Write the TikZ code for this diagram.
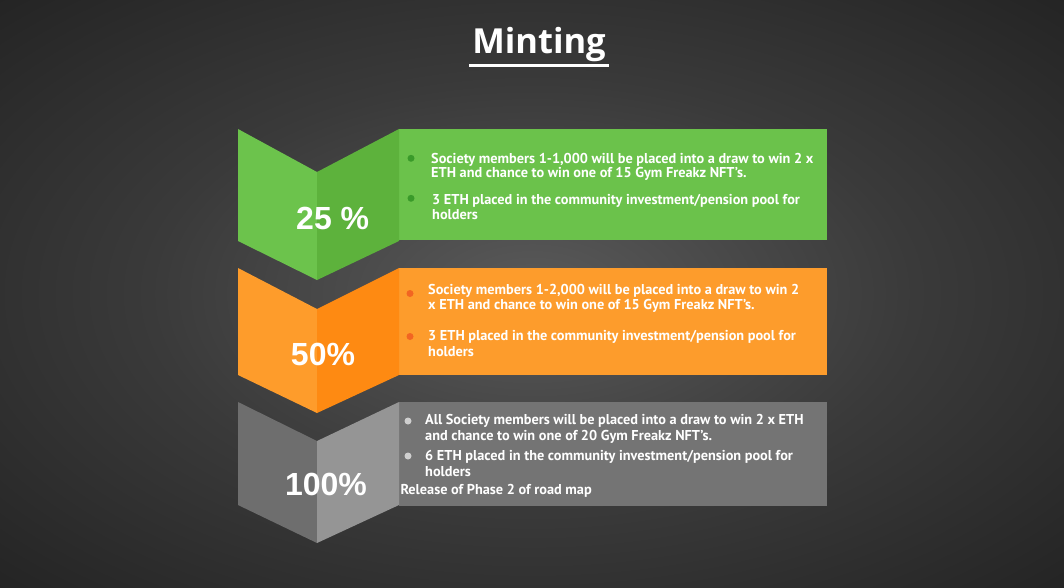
\documentclass[tikz,border=0pt]{standalone}
\usepackage{fontspec}
\setmainfont{PT Sans}
\newfontfamily\titlefont{Open Sans}
\newfontfamily\pctfont{Liberation Sans}
\definecolor{bgin}{HTML}{5A5A5A}
\definecolor{bgmid}{HTML}{3A3A3A}
\definecolor{bgout}{HTML}{121212}
\definecolor{gbox}{HTML}{6BC24B}
\definecolor{gleft}{HTML}{6CC34C}
\definecolor{gright}{HTML}{5DB23C}
\definecolor{gdot}{HTML}{3A9A2A}
\definecolor{obox}{HTML}{FD9C2C}
\definecolor{oleft}{HTML}{FE9C2B}
\definecolor{oright}{HTML}{FE8A12}
\definecolor{odot}{HTML}{F26522}
\definecolor{ybox}{HTML}{747474}
\definecolor{yleft}{HTML}{6E6E6E}
\definecolor{yright}{HTML}{959595}
\definecolor{ydot}{HTML}{CFCFCF}
\pgfdeclareradialshading{bgshade}{\pgfpoint{0bp}{0bp}}{color(0bp)=(bgin); color(18bp)=(bgmid); color(50bp)=(bgout)}
\tikzset{
  bodytext/.style={anchor=base west, inner sep=0pt, text=white, font=\fontsize{14.3}{16}\selectfont\bfseries},
  pcttext/.style={anchor=base, inner sep=0pt, text=white, font=\pctfont\fontsize{32}{36}\selectfont\bfseries},
  bulletdot/.style={circle, inner sep=0pt, minimum size=7pt}
}
\begin{document}
\begin{tikzpicture}[x=1pt,y=-1pt]
\useasboundingbox (0,0) rectangle (1064,587);
\shade[shading=bgshade] (0,0) rectangle (1064,587);
% title
\node[anchor=base, inner sep=0pt, text=white, font=\titlefont\fontsize{34.5}{40}\selectfont\bfseries] (title) at (539,53.3) {Minting};
\coordinate (ulL) at (469,65.5);
\coordinate (ulR) at (609,65.5);
\draw[white, line width=3pt] (ulL) -- (ulR);

% ---- green tier ----
\fill[gbox] (399,129) rectangle (827,240);
\fill[gleft] (238,129) -- (317,172) -- (317,280) -- (238,241) -- cycle;
\fill[gright] (317,172) -- (399,129) -- (399,241) -- (317,280) -- cycle;
\node[pcttext] (p25) at (332.7,229.3) {25 \%};
\node[bulletdot, fill=gdot] (gb1) at (411,158.3) {};
\node[bulletdot, fill=gdot] (gb2) at (411,198.3) {};
\node[bodytext] (g1a) at (431,163) {Society members 1-1,000 will be placed into a draw to win 2 x};
\node[bodytext] (g1b) at (431,177.5) {ETH and chance to win one of 15 Gym Freakz NFT’s.};
\node[bodytext] (g2a) at (432,204.3) {3 ETH placed in the community investment/pension pool for};
\node[bodytext] (g2b) at (432,219.3) {holders};

% ---- orange tier ----
\fill[obox] (399,268) rectangle (827,375);
\fill[oleft] (238,268) -- (317,309) -- (317,413) -- (238,375) -- cycle;
\fill[oright] (317,309) -- (399,268) -- (399,375) -- (317,413) -- cycle;
\node[pcttext] (p50) at (323,365) {50\%};
\node[bulletdot, fill=odot] (ob1) at (410,293.5) {};
\node[bulletdot, fill=odot] (ob2) at (410,336.5) {};
\node[bodytext] (o1a) at (428,294) {Society members 1-2,000 will be placed into a draw to win 2};
\node[bodytext] (o1b) at (428,309.5) {x ETH and chance to win one of 15 Gym Freakz NFT’s.};
\node[bodytext] (o2a) at (428,340.7) {3 ETH placed in the community investment/pension pool for};
\node[bodytext] (o2b) at (428,356) {holders};

% ---- gray tier ----
\fill[ybox] (399,402) rectangle (827,506);
\fill[yleft] (238,402) -- (317,441) -- (317,543) -- (238,505) -- cycle;
\fill[yright] (317,441) -- (399,402) -- (399,505) -- (317,543) -- cycle;
\node[pcttext] (p100) at (326,495) {100\%};
\node[bulletdot, fill=ydot] (yb1) at (408,421) {};
\node[bulletdot, fill=ydot] (yb2) at (408,456) {};
\node[bodytext] (y1a) at (425,424.3) {All Society members will be placed into a draw to win 2 x ETH};
\node[bodytext] (y1b) at (425,440.7) {and chance to win one of 20 Gym Freakz NFT’s.};
\node[bodytext] (y2a) at (425,460) {6 ETH placed in the community investment/pension pool for};
\node[bodytext] (y2b) at (425,476) {holders};
\node[bodytext] (y3) at (400.3,494.3) {Release of Phase 2 of road map};
\end{tikzpicture}
\end{document}
